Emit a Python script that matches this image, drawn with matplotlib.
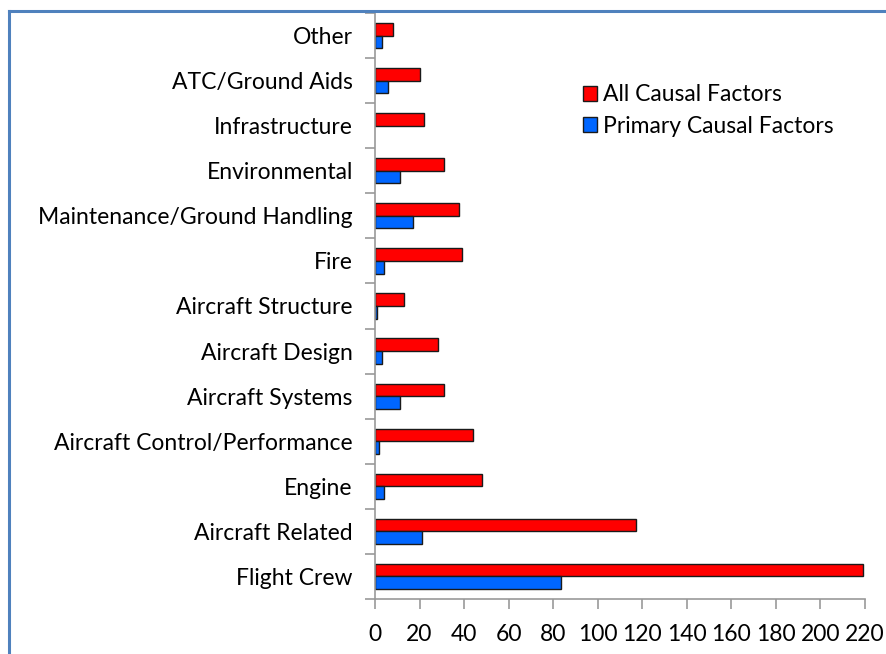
import matplotlib.pyplot as plt
from matplotlib.lines import Line2D
import numpy as np

plt.rcParams['font.family'] = ['Lato', 'DejaVu Sans']

categories = ['Flight Crew', 'Aircraft Related', 'Engine', 'Aircraft Control/Performance',
              'Aircraft Systems', 'Aircraft Design', 'Aircraft Structure', 'Fire',
              'Maintenance/Ground Handling', 'Environmental', 'Infrastructure',
              'ATC/Ground Aids', 'Other']
all_factors = [219, 117, 48, 44, 31, 28.5, 13, 39, 37.5, 31, 22, 20, 8]
primary_factors = [83.5, 21, 4, 2, 11, 3.2, 1, 4, 17, 11, 0, 6, 3.3]
xticks = list(range(0, 221, 20))

fs = 16.5

fig = plt.figure(figsize=(8.86, 6.54), dpi=100)
ax = fig.add_axes([375 / 886, 1 - 599 / 654, 490 / 886, 586 / 654])

y = np.arange(len(categories))
h = 0.28
ax.barh(y + h / 2, all_factors, height=h, color='#FF0000', edgecolor='#1a1a1a',
        linewidth=1.0, label='All Causal Factors')
blue = ax.barh(y - h / 2, primary_factors, height=h, color='#0066FF', edgecolor='#1a1a1a',
               linewidth=1.0, label='Primary Causal Factors')
for b, v in zip(blue, primary_factors):
    if v == 0:
        b.set_visible(False)

ax.set_xlim(0, 220)
ax.set_ylim(-0.5, len(categories) - 0.5)
ax.set_xticks(xticks)
ax.set_xticklabels([str(t) for t in xticks], fontsize=fs)
ax.set_yticks(y)
ax.set_yticklabels(categories, fontsize=fs)
ax.set_yticks(np.arange(-0.5, len(categories)), minor=True)

ax.tick_params(axis='y', which='major', length=0, pad=16)
ax.tick_params(axis='y', which='minor', length=7, color='#999999', width=1.2)
ax.tick_params(axis='x', length=7, color='#999999', width=1.2, direction='out', pad=11)

for s in ['top', 'right']:
    ax.spines[s].set_visible(False)
for s in ['left', 'bottom']:
    ax.spines[s].set_color('#999999')
    ax.spines[s].set_linewidth(1.2)

handles, labels = ax.get_legend_handles_labels()
ax.legend(handles, labels, loc='upper left', bbox_to_anchor=(0.424, 0.878),
          frameon=False, fontsize=fs, handlelength=0.6, handleheight=0.6,
          handletextpad=0.3, labelspacing=0.45, borderaxespad=0, borderpad=0)

# outer border (top and left edges visible)
border = '#4F81BD'
fig.add_artist(Line2D([9 / 886, 1], [1 - 11 / 654, 1 - 11 / 654], color=border,
                      linewidth=2.2, transform=fig.transFigure))
fig.add_artist(Line2D([9 / 886, 9 / 886], [0, 1 - 11 / 654], color=border,
                      linewidth=2.2, transform=fig.transFigure))

fig.savefig('out.png', dpi=100)
